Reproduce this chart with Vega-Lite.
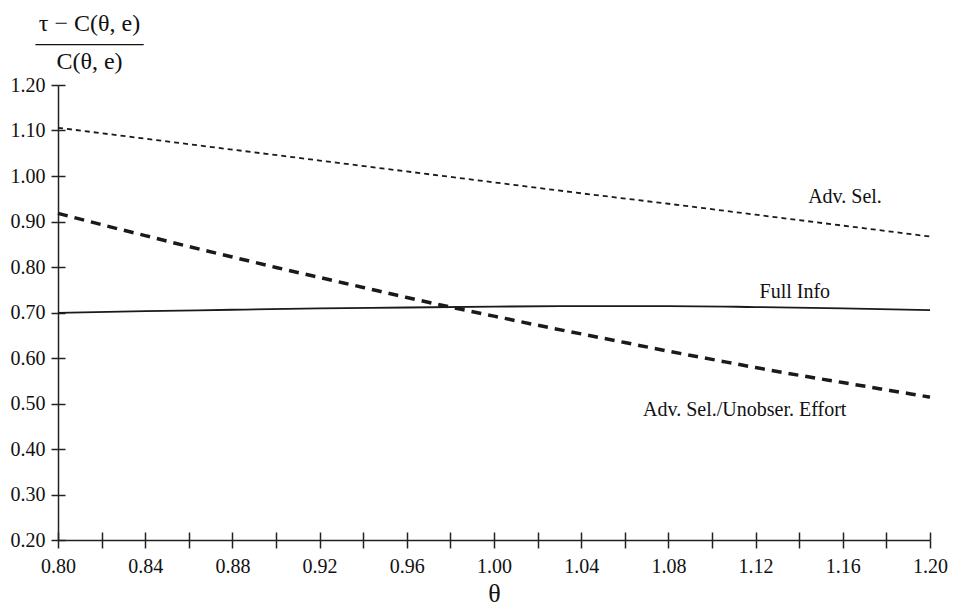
{
  "$schema": "https://vega.github.io/schema/vega-lite/v6.json",
  "width": 872,
  "height": 455,
  "autosize": "none",
  "padding": {"left": 58, "top": 85, "right": 31, "bottom": 73},
  "background": "white",
  "config": {
    "view": {"stroke": null},
    "font": "Liberation Serif",
    "text": {"font": "Liberation Serif"},
    "axis": {
      "grid": false,
      "domainColor": "#222",
      "tickColor": "#222",
      "labelColor": "#111",
      "titleColor": "#111",
      "labelFont": "Liberation Serif",
      "titleFont": "Liberation Serif",
      "titleFontWeight": "normal",
      "domainWidth": 1.5,
      "tickWidth": 1.5
    }
  },
  "datasets": {
    "curves": [
      {"theta": 0.80, "value": 1.106, "series": "Adv. Sel."},
      {"theta": 0.84, "value": 1.082, "series": "Adv. Sel."},
      {"theta": 0.88, "value": 1.058, "series": "Adv. Sel."},
      {"theta": 0.92, "value": 1.034, "series": "Adv. Sel."},
      {"theta": 0.96, "value": 1.010, "series": "Adv. Sel."},
      {"theta": 1.00, "value": 0.986, "series": "Adv. Sel."},
      {"theta": 1.04, "value": 0.962, "series": "Adv. Sel."},
      {"theta": 1.08, "value": 0.939, "series": "Adv. Sel."},
      {"theta": 1.12, "value": 0.915, "series": "Adv. Sel."},
      {"theta": 1.16, "value": 0.891, "series": "Adv. Sel."},
      {"theta": 1.20, "value": 0.867, "series": "Adv. Sel."},
      {"theta": 0.80, "value": 0.699, "series": "Full Info"},
      {"theta": 0.84, "value": 0.703, "series": "Full Info"},
      {"theta": 0.88, "value": 0.706, "series": "Full Info"},
      {"theta": 0.92, "value": 0.709, "series": "Full Info"},
      {"theta": 0.96, "value": 0.711, "series": "Full Info"},
      {"theta": 1.00, "value": 0.713, "series": "Full Info"},
      {"theta": 1.04, "value": 0.714, "series": "Full Info"},
      {"theta": 1.08, "value": 0.714, "series": "Full Info"},
      {"theta": 1.12, "value": 0.712, "series": "Full Info"},
      {"theta": 1.16, "value": 0.709, "series": "Full Info"},
      {"theta": 1.20, "value": 0.705, "series": "Full Info"},
      {"theta": 0.80, "value": 0.918, "series": "Adv. Sel./Unobser. Effort"},
      {"theta": 0.82, "value": 0.893, "series": "Adv. Sel./Unobser. Effort"},
      {"theta": 0.84, "value": 0.869, "series": "Adv. Sel./Unobser. Effort"},
      {"theta": 0.86, "value": 0.845, "series": "Adv. Sel./Unobser. Effort"},
      {"theta": 0.88, "value": 0.822, "series": "Adv. Sel./Unobser. Effort"},
      {"theta": 0.90, "value": 0.799, "series": "Adv. Sel./Unobser. Effort"},
      {"theta": 0.92, "value": 0.777, "series": "Adv. Sel./Unobser. Effort"},
      {"theta": 0.94, "value": 0.755, "series": "Adv. Sel./Unobser. Effort"},
      {"theta": 0.96, "value": 0.733, "series": "Adv. Sel./Unobser. Effort"},
      {"theta": 0.98, "value": 0.712, "series": "Adv. Sel./Unobser. Effort"},
      {"theta": 1.00, "value": 0.692, "series": "Adv. Sel./Unobser. Effort"},
      {"theta": 1.02, "value": 0.672, "series": "Adv. Sel./Unobser. Effort"},
      {"theta": 1.04, "value": 0.653, "series": "Adv. Sel./Unobser. Effort"},
      {"theta": 1.06, "value": 0.634, "series": "Adv. Sel./Unobser. Effort"},
      {"theta": 1.08, "value": 0.615, "series": "Adv. Sel./Unobser. Effort"},
      {"theta": 1.10, "value": 0.597, "series": "Adv. Sel./Unobser. Effort"},
      {"theta": 1.12, "value": 0.579, "series": "Adv. Sel./Unobser. Effort"},
      {"theta": 1.14, "value": 0.562, "series": "Adv. Sel./Unobser. Effort"},
      {"theta": 1.16, "value": 0.546, "series": "Adv. Sel./Unobser. Effort"},
      {"theta": 1.18, "value": 0.530, "series": "Adv. Sel./Unobser. Effort"},
      {"theta": 1.20, "value": 0.514, "series": "Adv. Sel./Unobser. Effort"}
    ],
    "labels": [
      {"theta": 1.161, "value": 0.954, "label": "Adv. Sel."},
      {"theta": 1.138, "value": 0.745, "label": "Full Info"},
      {"theta": 1.115, "value": 0.486, "label": "Adv. Sel./Unobser. Effort"}
    ]
  },
  "layer": [
    {
      "layer": [
        {
          "data": {"name": "curves"},
          "transform": [{"filter": "datum.series == 'Full Info'"}],
          "mark": {"type": "line", "color": "#1a1a1a", "strokeWidth": 1.8, "interpolate": "monotone"},
          "encoding": {
            "x": {
              "field": "theta",
              "type": "quantitative",
              "scale": {"domain": [0.8, 1.2], "nice": false, "zero": false},
              "axis": {
                "orient": "bottom",
                "values": [0.80, 0.82, 0.84, 0.86, 0.88, 0.90, 0.92, 0.94, 0.96, 0.98, 1.00, 1.02, 1.04, 1.06, 1.08, 1.10, 1.12, 1.14, 1.16, 1.18, 1.20],
                "labelExpr": "round(datum.value * 100) % 4 == 0 ? format(datum.value, '.2f') : ''",
                "tickSize": 8,
                "labelPadding": 8,
                "labelFontSize": 20,
                "labelFlush": false,
                "labelOverlap": false,
                "title": "θ",
                "titleFontSize": 26,
                "titlePadding": 4
              }
            },
            "y": {
              "field": "value",
              "type": "quantitative",
              "scale": {"domain": [0.2, 1.2], "nice": false, "zero": false},
              "axis": {
                "orient": "left",
                "values": [0.2, 0.3, 0.4, 0.5, 0.6, 0.7, 0.8, 0.9, 1.0, 1.1, 1.2],
                "format": ".2f",
                "tickSize": 7,
                "labelPadding": 6,
                "labelFontSize": 20,
                "labelFlush": false,
                "labelOverlap": false,
                "title": ["τ − C(θ, e)", "————–", "C(θ, e)"],
                "titleFontSize": 24,
                "titleLineHeight": 19,
                "titleAngle": 0,
                "titleAlign": "center",
                "titleBaseline": "top",
                "titleX": 31,
                "titleY": -74
              }
            }
          }
        },
        {
          "data": {"name": "curves"},
          "transform": [{"filter": "datum.series == 'Adv. Sel.'"}],
          "mark": {"type": "line", "color": "#1a1a1a", "strokeWidth": 1.8, "strokeDash": [5, 4]},
          "encoding": {
            "x": {"field": "theta", "type": "quantitative"},
            "y": {"field": "value", "type": "quantitative"}
          }
        },
        {
          "data": {"name": "curves"},
          "transform": [{"filter": "datum.series == 'Adv. Sel./Unobser. Effort'"}],
          "mark": {"type": "line", "color": "#1a1a1a", "strokeWidth": 3.5, "strokeDash": [10, 7], "interpolate": "monotone"},
          "encoding": {
            "x": {"field": "theta", "type": "quantitative"},
            "y": {"field": "value", "type": "quantitative"}
          }
        }
      ]
    },
    {
      "data": {"name": "labels"},
      "mark": {"type": "text", "fontSize": 20, "color": "#111", "align": "center", "baseline": "middle"},
      "encoding": {
        "x": {
          "field": "theta",
          "type": "quantitative",
          "axis": {
            "orient": "bottom",
            "values": [0.80, 0.82, 0.84, 0.86, 0.88, 0.90, 0.92, 0.94, 0.96, 0.98, 1.00, 1.02, 1.04, 1.06, 1.08, 1.10, 1.12, 1.14, 1.16, 1.18, 1.20],
            "tickSize": -8,
            "domain": false,
            "labels": false,
            "title": null
          }
        },
        "y": {
          "field": "value",
          "type": "quantitative",
          "axis": {
            "orient": "left",
            "values": [0.2, 0.3, 0.4, 0.5, 0.6, 0.7, 0.8, 0.9, 1.0, 1.1, 1.2],
            "tickSize": -7,
            "domain": false,
            "labels": false,
            "title": null
          }
        },
        "text": {"field": "label"}
      }
    }
  ],
  "resolve": {"axis": {"x": "independent", "y": "independent"}}
}
